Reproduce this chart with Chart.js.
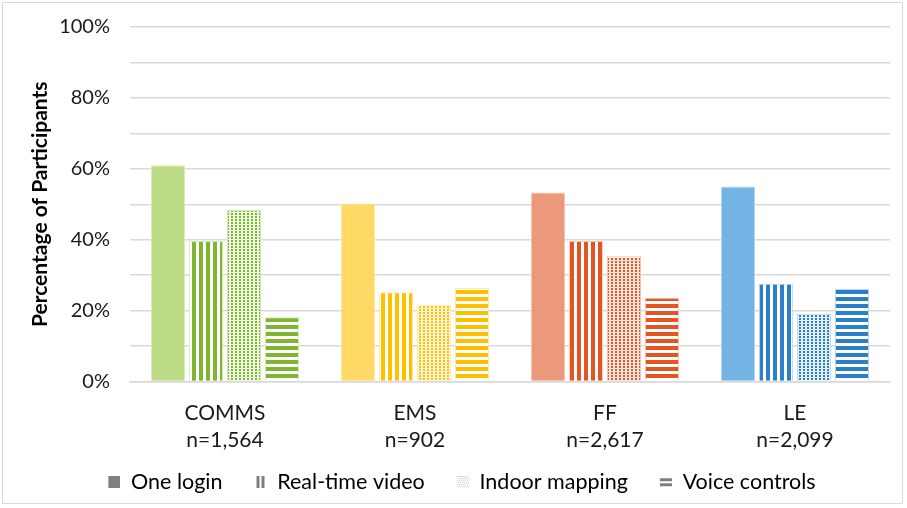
<!DOCTYPE html>
<html>
<head>
<meta charset="utf-8">
<script src="https://cdn.jsdelivr.net/npm/chart.js@4/dist/chart.umd.min.js"></script>
<style>
  html, body { margin: 0; padding: 0; background: #fff; }
  #wrap { position: absolute; left: 2px; top: 2px; width: 901px; height: 502px; border: 1px solid #d9d9d9; box-sizing: border-box; }
  canvas { display: block; }
</style>
</head>
<body>
<div id="wrap"><canvas id="c" width="899" height="500"></canvas></div>
<script>
// Survey groups and their sample sizes
const categories = [["COMMS", "n=1,564"], ["EMS", "n=902"], ["FF", "n=2,617"], ["LE", "n=2,099"]];
const seriesNames = ["One login", "Real-time video", "Indoor mapping", "Voice controls"];

// Percentage of participants choosing each feature
const oneLogin      = [61.0, 50.2, 53.3, 55.0];
const realTimeVideo = [39.6, 25.2, 39.6, 27.6];
const indoorMapping = [48.4, 21.7, 35.3, 19.1];
const voiceControls = [18.1, 26.4, 23.6, 26.1];

const yTickLabels = ["0%", "20%", "40%", "60%", "80%", "100%"];

// Per-group palettes: light tone for solid bars, strong tone for patterned bars
const lightColors  = ["#bbdb84", "#ffd966", "#eb987b", "#74b4e4"];
const strongColors = ["#7fb631", "#ffc000", "#e55524", "#2a7fc8"];
const edgeColors   = ["#d7ebb6", "#ffe9a6", "#f5c4b3", "#b5d6f0"];
const tintColors   = ["#eef6e2", "#fff5d6", "#fbe6de", "#e3eff9"];

function paintTile(ctx, kind, fg, bg, w, h) {
  if (kind === "solid") {
    ctx.fillStyle = fg; ctx.fillRect(0, 0, w, h);
    return;
  }
  ctx.fillStyle = bg; ctx.fillRect(0, 0, w, h);
  ctx.fillStyle = fg;
  if (kind === "vertical") ctx.fillRect(0, 0, 4, h);
  else if (kind === "horizontal") ctx.fillRect(0, 0, w, 4);
  else ctx.fillRect(0, 0, 2, 2);
}

function makePattern(kind, fg, bg) {
  const t = document.createElement("canvas");
  const size = { vertical: [7, 7], horizontal: [7, 7], dots: [4, 3], solid: [4, 4] }[kind];
  t.width = size[0]; t.height = size[1];
  paintTile(t.getContext("2d"), kind, fg, bg, size[0], size[1]);
  return t.getContext("2d").createPattern(t, "repeat");
}

// Legend swatch: a 12px patterned square with clear space to its left for item spacing
const swatchGap = 22, swatchSize = 12;
function makeSwatch(kind) {
  const c = document.createElement("canvas");
  c.width = swatchGap + swatchSize; c.height = swatchSize;
  const ctx = c.getContext("2d");
  if (kind === "vertical") {
    ctx.fillStyle = "#7f7f7f";
    ctx.fillRect(swatchGap + 2, 0, 3, swatchSize);
    ctx.fillRect(swatchGap + 7, 0, 3, swatchSize);
  } else if (kind === "horizontal") {
    ctx.fillStyle = "#7f7f7f";
    ctx.fillRect(swatchGap, 2, swatchSize, 3);
    ctx.fillRect(swatchGap, 7, swatchSize, 3);
  } else if (kind === "dots") {
    ctx.fillStyle = "#bfbfbf";
    for (let y = 0; y < swatchSize; y += 2) for (let x = (y / 2) % 2; x < swatchSize; x += 2) ctx.fillRect(swatchGap + x, y, 1, 1);
  } else {
    ctx.fillStyle = "#7f7f7f";
    ctx.fillRect(swatchGap, 0, swatchSize, swatchSize);
  }
  return c;
}

const kinds = ["solid", "vertical", "dots", "horizontal"];
const values = [oneLogin, realTimeVideo, indoorMapping, voiceControls];

const datasets = seriesNames.map((name, i) => ({
  label: name,
  data: values[i],
  backgroundColor: kinds[i] === "solid"
    ? lightColors.slice()
    : strongColors.map((c, g) => makePattern(kinds[i], c, kinds[i] === "dots" ? tintColors[g] : "#fff")),
  borderColor: edgeColors,
  borderWidth: 1,
  categoryPercentage: 0.8,
  barPercentage: 0.9
}));

const swatches = kinds.map(makeSwatch);

const font = "Lato, 'Open Sans', sans-serif";

new Chart(document.getElementById("c"), {
  type: "bar",
  data: { labels: categories, datasets },
  options: {
    responsive: false,
    animation: false,
    layout: { padding: { left: 9, right: 12, top: 24, bottom: 0 } },
    scales: {
      x: {
        grid: { display: false },
        border: { display: true, color: "#d9d9d9", width: 1.5 },
        ticks: { color: "#1a1a1a", font: { family: font, size: 21, lineHeight: 1.3 }, padding: 10 },
        afterFit: s => { s.height = 80; }
      },
      y: {
        min: 0, max: 100,
        ticks: {
          stepSize: 10,
          color: "#1a1a1a",
          font: { family: font, size: 20 },
          padding: 20,
          callback: v => (v % 20 === 0 ? yTickLabels[v / 20] : "")
        },
        grid: { color: "#d9d9d9", lineWidth: 1.5, drawTicks: false },
        border: { display: false },
        title: {
          display: true,
          text: "Percentage of Participants",
          color: "#000",
          font: { family: font, size: 21, weight: "bold" },
          padding: { top: 16, bottom: 4 }
        },
        afterFit: s => { s.width = 118; s.paddingTop = 0; s.paddingBottom = 0; }
      }
    },
    plugins: {
      tooltip: { enabled: false },
      legend: {
        position: "bottom",
        labels: {
          color: "#1a1a1a",
          font: { family: font, size: 21.5 },
          usePointStyle: true,
          pointStyleWidth: swatchGap + swatchSize,
          boxHeight: swatchSize,
          padding: 10,
          generateLabels: chart => seriesNames.map((n, i) => ({
            text: n,
            pointStyle: swatches[i],
            fillStyle: "#7f7f7f",
            strokeStyle: "#7f7f7f",
            lineWidth: 0,
            datasetIndex: i,
            hidden: false
          }))
        }
      }
    }
  }
});
</script>
</body>
</html>
